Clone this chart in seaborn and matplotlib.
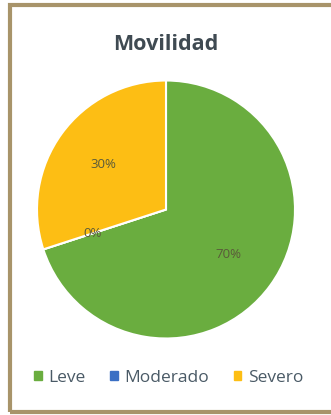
import matplotlib
matplotlib.use("Agg")
import matplotlib.pyplot as plt
import seaborn as sns
from matplotlib.patches import Rectangle

categories = ["Leve", "Moderado", "Severo"]
values = [70, 0, 30]
colors = ["#6AAD3F", "#3A6FC4", "#FDBE14"]
title = "Movilidad"

sns.set_theme(style="white")
plt.rcParams['font.family'] = ['Open Sans', 'DejaVu Sans']

W, H = 331, 415
fig = plt.figure(figsize=(W / 100, H / 100), dpi=100)
fig.patch.set_facecolor("white")
R = 129.0
cx, cy = 166.0, 209.5
ax_h = 2.04 * R
ax = fig.add_axes([0.0, (H - cy - ax_h / 2) / H, 1.0, ax_h / H])
wedges, texts, autotexts = ax.pie(
    values, colors=colors, startangle=90, counterclock=False,
    autopct=lambda p: f"{p:.0f}%", pctdistance=0.6,
    wedgeprops=dict(edgecolor="white", linewidth=1.5),
    textprops=dict(color="#5a5a3a", fontsize=9.5))
ax.set_aspect("auto")
ax.set_xlim(-cx / R, (W - cx) / R)
ax.set_ylim(-1.02, 1.02)

fig.text(0.50, 1 - 45 / H, title, ha="center", va="center", fontsize=15.5,
         fontweight="bold", color="#3f4a52")

handles = [Rectangle((0, 0), 1, 1, color=c) for c in colors]
fig.legend(handles, categories, loc="center", bbox_to_anchor=(0.51, 1 - 378 / H),
           ncol=3, frameon=False, fontsize=12.5, handlelength=0.42,
           handleheight=0.42, handletextpad=0.4, columnspacing=1.4,
           labelcolor="#4a5a66")

border = Rectangle((0.03, 0.008), 1.2, 0.98, transform=fig.transFigure,
                   fill=False, edgecolor="#a8946a", linewidth=3)
fig.patches.append(border)

fig.savefig("out.png", dpi=100)
